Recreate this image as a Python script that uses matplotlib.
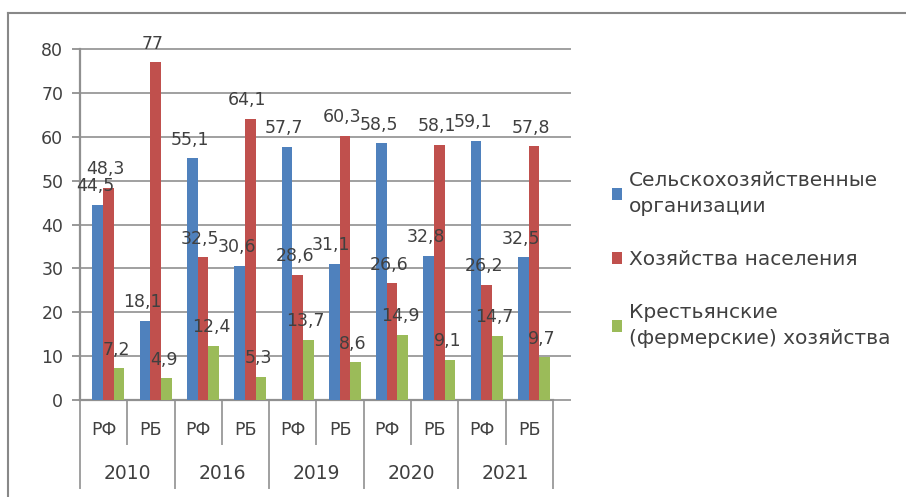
import matplotlib
matplotlib.use("Agg")
from matplotlib import pyplot
from matplotlib.lines import Line2D
import numpy as np

pyplot.rcParams['font.family'] = ['DejaVu Sans']

years = ['2010', '2016', '2019', '2020', '2021']
regions = ['РФ', 'РБ']
series_names = ['Сельскохозяйственные\nорганизации',
                'Хозяйства населения',
                'Крестьянские\n(фермерские) хозяйства']
agri_orgs = [44.5, 18.1, 55.1, 30.6, 57.7, 31.1, 58.5, 32.8, 59.1, 32.5]
households = [48.3, 77, 32.5, 64.1, 28.6, 60.3, 26.6, 58.1, 26.2, 57.8]
farms = [7.2, 4.9, 12.4, 5.3, 13.7, 8.6, 14.9, 9.1, 14.7, 9.7]

colors = ['#4F81BD', '#C0504D', '#9BBB59']
text_color = '#404040'

fig = pyplot.figure(figsize=(9.06, 4.97), dpi=100)
# outer chart frame (only top and left edges are visible in the picture)
fig.lines.append(Line2D([0.009, 1.0], [0.974, 0.974], transform=fig.transFigure,
                        color='#888888', linewidth=1.5))
fig.lines.append(Line2D([0.009, 0.009], [0.0, 0.974], transform=fig.transFigure,
                        color='#888888', linewidth=1.5))

ax = fig.add_axes([0.0883, 0.1952, 0.522, 0.706])

n = len(agri_orgs)
x = np.arange(n)
w = 0.225
for i, (vals, c, name) in enumerate(zip([agri_orgs, households, farms], colors, series_names)):
    pos = x + (i - 1) * w + 0.1
    bars = ax.bar(pos, vals, w, color=c, label=name, zorder=3)
    for b, v in zip(bars, vals):
        ax.annotate(("%g" % v).replace('.', ','),
                    (b.get_x() + b.get_width() / 2, v),
                    xytext=(-2, 7), textcoords='offset points',
                    ha='center', va='bottom', fontsize=12.5, color=text_color, zorder=5)

ax.set_xlim(-0.5, n - 0.5)
ax.set_ylim(0, 80)
ax.set_yticks(range(0, 81, 10))
ax.tick_params(axis='y', labelsize=12.5, length=6, width=1.3, color='#909090',
               labelcolor=text_color, pad=6)
ax.set_xticks([])
for s in ['top', 'right']:
    ax.spines[s].set_visible(False)
for s in ['left', 'bottom']:
    ax.spines[s].set_color('#909090')
    ax.spines[s].set_linewidth(1.6)

# gridlines run a little past the last category (3-D depth of the floor)
for yv in range(10, 81, 10):
    ax.plot([0, 1.036], [yv, yv], transform=ax.get_yaxis_transform(),
            color='#a0a0a0', linewidth=1.4, zorder=0, clip_on=False)
ax.plot([1.0, 1.036], [0, 0], transform=ax.get_yaxis_transform(),
        color='#a0a0a0', linewidth=1.4, zorder=0, clip_on=False)

# two-level category axis
tr = ax.get_xaxis_transform()
for k in range(n):
    ax.text(k, -0.085, regions[k % 2], transform=tr, ha='center', va='center',
            fontsize=12.5, color=text_color)
for j, yr in enumerate(years):
    ax.text(2 * j + 0.5, -0.21, yr, transform=tr, ha='center', va='center',
            fontsize=13.5, color=text_color)
for k in range(n + 1):
    bottom = -0.25 if k % 2 == 0 else -0.125
    ax.plot([k - 0.5, k - 0.5], [0, bottom], transform=tr, color='#a0a0a0',
            linewidth=1.4, clip_on=False)

leg = ax.legend(loc='center left', bbox_to_anchor=(1.087, 0.40), frameon=False,
                fontsize=14.5, handlelength=0.5, handleheight=0.5, handletextpad=0.35,
                labelspacing=1.7, labelcolor=text_color)
for t in leg.get_texts():
    t.set_linespacing(1.45)

fig.savefig("out.png", dpi=100)
